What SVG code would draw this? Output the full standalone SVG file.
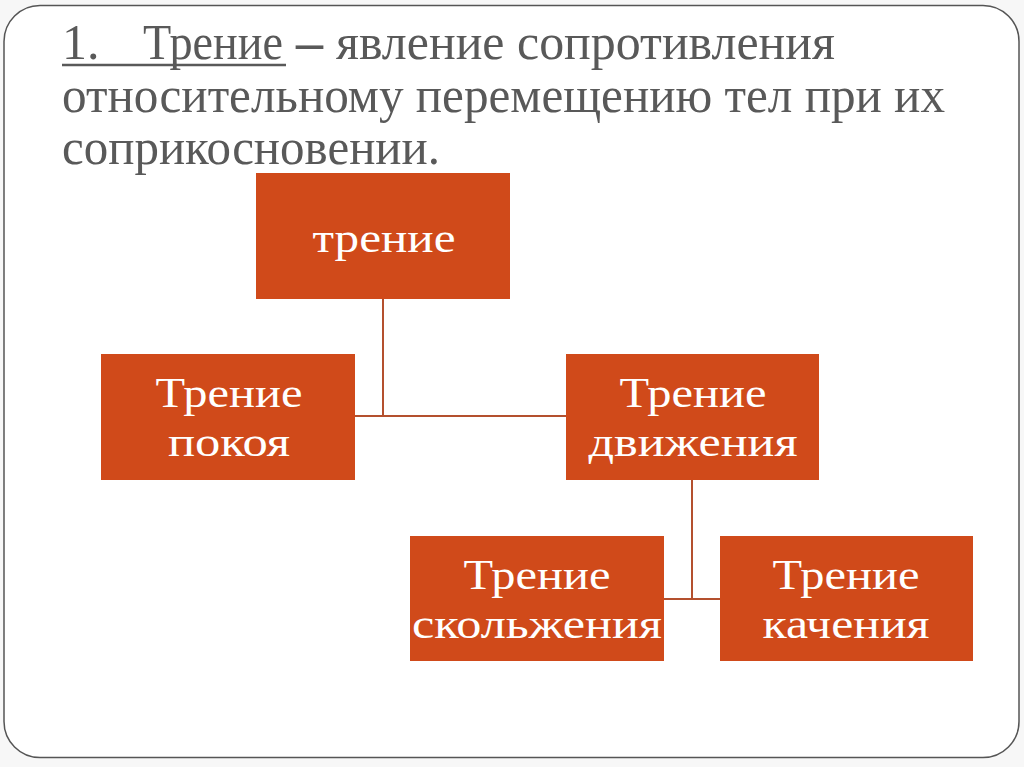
<svg xmlns="http://www.w3.org/2000/svg" width="1024" height="767" viewBox="0 0 1024 767">
<style>
.title{font-family:"Liberation Serif",serif;font-size:50px;fill:#595959}
.box{fill:#D04A1A}
.lbl{font-family:"Liberation Serif",serif;font-size:42px;fill:#ffffff}
.conn{stroke:#B4502E;stroke-width:2;fill:none}
</style>
<rect x="0" y="0" width="1024" height="767" fill="#f7f7f7"/>
<rect x="4" y="5.5" width="1015" height="752" rx="36" ry="36" fill="#ffffff" stroke="#555555" stroke-width="1.5"/>
<g id="title">
<text class="title" y="59"><tspan x="62">1.</tspan><tspan x="143" textLength="140" lengthAdjust="spacingAndGlyphs">Трение</tspan><tspan x="296" font-weight="bold" textLength="27" lengthAdjust="spacingAndGlyphs">–</tspan><tspan x="336" textLength="499" lengthAdjust="spacingAndGlyphs">явление сопротивления</tspan></text>
<line x1="62" y1="65" x2="286" y2="65" stroke="#595959" stroke-width="2.5"/>
<text class="title" x="62" y="112" textLength="883" lengthAdjust="spacingAndGlyphs">относительному перемещению тел при их</text>
<text class="title" x="62" y="164" textLength="378" lengthAdjust="spacingAndGlyphs">соприкосновении.</text>
</g>
<g id="connectors">
<polyline class="conn" points="383,299 383,416"/>
<polyline class="conn" points="355,416 566,416"/>
<polyline class="conn" points="692,480 692,599"/>
<polyline class="conn" points="664,599 720,599"/>
</g>
<g id="n-trenie">
<rect class="box" x="256" y="173" width="254" height="126"/>
<text class="lbl" x="384" y="252" text-anchor="middle" textLength="143" lengthAdjust="spacingAndGlyphs">трение</text>
</g>
<g id="n-pokoya">
<rect class="box" x="101" y="354" width="254" height="126"/>
<text class="lbl" x="229" y="407" text-anchor="middle" textLength="147" lengthAdjust="spacingAndGlyphs">Трение</text>
<text class="lbl" x="229" y="456" text-anchor="middle" textLength="122" lengthAdjust="spacingAndGlyphs">покоя</text>
</g>
<g id="n-dvizheniya">
<rect class="box" x="566" y="354" width="253" height="126"/>
<text class="lbl" x="693" y="407" text-anchor="middle" textLength="147" lengthAdjust="spacingAndGlyphs">Трение</text>
<text class="lbl" x="693" y="456" text-anchor="middle" textLength="209" lengthAdjust="spacingAndGlyphs">движения</text>
</g>
<g id="n-skolzheniya">
<rect class="box" x="410" y="536" width="254" height="125"/>
<text class="lbl" x="537" y="589" text-anchor="middle" textLength="147" lengthAdjust="spacingAndGlyphs">Трение</text>
<text class="lbl" x="537" y="638" text-anchor="middle" textLength="250" lengthAdjust="spacingAndGlyphs">скольжения</text>
</g>
<g id="n-kacheniya">
<rect class="box" x="720" y="536" width="253" height="125"/>
<text class="lbl" x="846" y="589" text-anchor="middle" textLength="147" lengthAdjust="spacingAndGlyphs">Трение</text>
<text class="lbl" x="846" y="638" text-anchor="middle" textLength="167" lengthAdjust="spacingAndGlyphs">качения</text>
</g>
</svg>
